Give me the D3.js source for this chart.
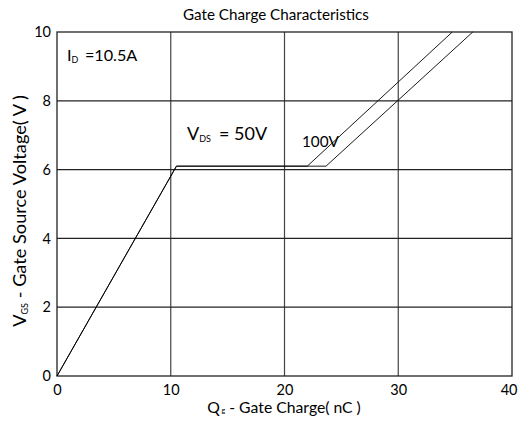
<!DOCTYPE html>
<html>
<head>
<meta charset="utf-8">
<script src="https://cdn.jsdelivr.net/npm/d3@7"></script>
<style>
  body { margin: 0; background: #fff; }
  svg text { font-family: Lato, "Open Sans", sans-serif; fill: #000; }
</style>
</head>
<body>
<svg id="chart" width="519" height="424"></svg>
<script>
// Gate charge curves: [Qg (nC), VGS (V)] breakpoints for each drain-source voltage
const vds50 = [[0, 0], [10.5, 6.1], [22.0, 6.1], [34.75, 10]];
const vds100 = [[0, 0], [10.5, 6.1], [23.65, 6.1], [36.55, 10]];
const xTicks = [0, 10, 20, 30, 40];
const yTicks = [0, 2, 4, 6, 8, 10];

const svg = d3.select("#chart");
const margin = { left: 57, right: 7, top: 32, bottom: 48 };
const W = 519, H = 424;

const x = d3.scaleLinear().domain([0, 40]).range([margin.left, W - margin.right]);
const y = d3.scaleLinear().domain([0, 10]).range([H - margin.bottom, margin.top]);

// scale a text's font size so that it spans the given width
function fitWidth(sel, width) {
  const base = parseFloat(sel.attr("font-size"));
  const w = sel.node().getComputedTextLength();
  sel.attr("font-size", (base * width / w).toFixed(2));
  return sel;
}

// text with a lowered subscript between a main part and a tail
function subText(sel, main, sub, tail, subSize, gap) {
  sel.append("tspan").text(main);
  sel.append("tspan").attr("font-size", subSize).attr("dy", "0.18em").text(sub);
  sel.append("tspan").attr("dy", "-0.09em").attr("dx", gap).text(tail);
  return sel;
}

// grid lines
svg.append("g").selectAll("line").data(xTicks.slice(1, -1)).join("line")
  .attr("x1", d => x(d)).attr("x2", d => x(d))
  .attr("y1", y(0)).attr("y2", y(10))
  .attr("stroke", "#444").attr("stroke-width", 1.2);
svg.append("g").selectAll("line").data(yTicks.slice(1, -1)).join("line")
  .attr("x1", x(0)).attr("x2", x(40))
  .attr("y1", d => y(d)).attr("y2", d => y(d))
  .attr("stroke", "#222").attr("stroke-width", 1.2);

// frame
svg.append("rect")
  .attr("x", x(0)).attr("y", y(10))
  .attr("width", x(40) - x(0)).attr("height", y(0) - y(10))
  .attr("fill", "none").attr("stroke", "#222").attr("stroke-width", 1.3);

// axes (labels only)
const xAxis = svg.append("g").attr("transform", `translate(0,${y(0)})`)
  .call(d3.axisBottom(x).tickValues(xTicks).tickSize(0).tickPadding(9));
const yAxis = svg.append("g").attr("transform", `translate(${x(0)},0)`)
  .call(d3.axisLeft(y).tickValues(yTicks).tickSize(0).tickPadding(6));
[xAxis, yAxis].forEach(g => {
  g.select(".domain").remove();
  g.selectAll("text").attr("font-size", 14.5).attr("font-family", "Lato, sans-serif");
});
xAxis.selectAll("text").attr("dy", "0.71em");
xAxis.selectAll(".tick").filter(d => d === 40).select("text")
  .attr("text-anchor", "end").attr("x", 517 - x(40));

// curves
const line = d3.line().x(d => x(d[0])).y(d => y(d[1]));
[vds50, vds100].forEach(s => {
  svg.append("path").datum(s).attr("d", line)
    .attr("fill", "none").attr("stroke", "#000").attr("stroke-width", 0.9);
});

// title and axis titles
const title = svg.append("text").attr("x", 276).attr("y", 20).attr("text-anchor", "middle")
  .attr("font-size", 14).text("Gate Charge Characteristics");
fitWidth(title, 186);

const xl = svg.append("text").attr("x", 284).attr("y", 413).attr("text-anchor", "middle").attr("font-size", 14);
xl.append("tspan").text("Q");
xl.append("tspan").attr("font-size", "0.45em").attr("dx", "0.25em").text("g");
xl.append("tspan").text(" - Gate Charge( nC )");
fitWidth(xl, 152);

const yl = svg.append("text").attr("transform", "translate(26,211) rotate(-90)")
  .attr("text-anchor", "middle").attr("font-size", 14);
subText(yl, "V", "GS", " - Gate Source Voltage( V )", "0.5em", 0);
fitWidth(yl, 232);

// annotations
const id = svg.append("text").attr("x", 67).attr("y", 61).attr("font-size", 14);
subText(id, "I", "D", " =10.5A", "0.55em", "0.15em");
fitWidth(id, 68);

const vds = svg.append("text").attr("x", 187).attr("y", 140).attr("font-size", 14);
subText(vds, "V", "DS", "= 50V", "0.5em", "0.45em");
fitWidth(vds, 72);

const v100 = svg.append("text").attr("x", 302).attr("y", 147).attr("font-size", 14).text("100V");
fitWidth(v100, 37);
</script>
</body>
</html>
